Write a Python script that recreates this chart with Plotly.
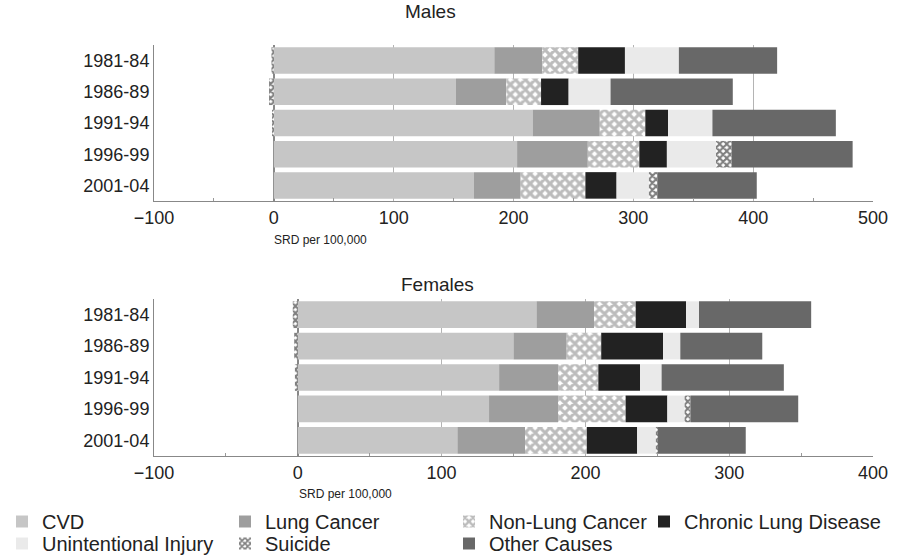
import plotly.graph_objects as go

periods = ["1981-84", "1986-89", "1991-94", "1996-99", "2001-04"]
causes = ["CVD", "Lung Cancer", "Non-Lung Cancer", "Chronic Lung Disease",
          "Unintentional Injury", "Suicide", "Other Causes"]

# Males (SRD per 100,000)
m_cvd = [184, 152, 216, 203, 167]
m_lung = [40, 42, 56, 59, 39]
m_nonlung = [30, 29, 38, 43, 54]
m_chronic = [39, 23, 19, 23, 26]
m_unint = [45, 35, 37, 41, 27]
m_suicide = [-2, -4, -1.5, 13, 7]
m_other = [82, 102, 103, 101, 83]

# Females (SRD per 100,000)
f_cvd = [166, 150, 140, 133, 111]
f_lung = [40, 37, 41, 48, 47]
f_nonlung = [29, 24, 28, 47, 43]
f_chronic = [35, 43, 29, 29, 35]
f_unint = [9, 12, 15, 12, 13]
f_suicide = [-3.5, -2.5, -2, 4, 1.5]
f_other = [78, 57, 85, 75, 61]

males = [m_cvd, m_lung, m_nonlung, m_chronic, m_unint, m_suicide, m_other]
females = [f_cvd, f_lung, f_nonlung, f_chronic, f_unint, f_suicide, f_other]

colors = ["#c6c6c6", "#9e9e9e", "#ffffff", "#222222", "#eaeaea", "#ffffff", "#686868"]
patterns = [None, None,
            dict(shape="x", fgcolor="#7a7a7a", bgcolor="#ffffff", size=7, solidity=0.68),
            None, None,
            dict(shape="x", fgcolor="#000000", bgcolor="#ffffff", size=5, solidity=0.65),
            None]

FONT = "Liberation Sans, Arial, sans-serif"
W, H = 912, 556


def px(x):
    return x / W


def py(y):
    return 1 - y / H


# one legend box per entry: (left px, top px) -> 4 columns x 2 rows
legend_pos = [(2, 502), (225, 502), (449, 502), (644, 502),
              (2, 524), (225, 524), (449, 524)]
legend_ids = ["legend"] + ["legend%d" % (k + 2) for k in range(6)]

fig = go.Figure()
for i, name in enumerate(causes):
    marker = dict(color=colors[i], line=dict(width=0))
    if patterns[i]:
        marker["pattern"] = patterns[i]
    fig.add_trace(go.Bar(y=periods, x=males[i], orientation="h", name=name,
                         marker=marker, legendgroup=name, legend=legend_ids[i],
                         xaxis="x", yaxis="y"))
for i, name in enumerate(causes):
    marker = dict(color=colors[i], line=dict(width=0))
    if patterns[i]:
        marker["pattern"] = patterns[i]
    fig.add_trace(go.Bar(y=periods, x=females[i], orientation="h", name=name,
                         marker=marker, legendgroup=name, showlegend=False,
                         xaxis="x2", yaxis="y2"))

xdom = [px(154), px(873)]
ydom_m = [py(201), py(45)]
ydom_f = [py(456), py(299)]

xcommon = dict(showgrid=True, gridcolor="#b4b4b4", gridwidth=1,
               zeroline=True, zerolinecolor="#888888", zerolinewidth=1.5,
               showline=True, linecolor="#888888", linewidth=1,
               dtick=100, ticks="", tickfont=dict(size=18, color="#222", family=FONT),
               minor=dict(ticks="inside", ticklen=3, dtick=50, tickcolor="#999", showgrid=False))
ycommon = dict(type="category", showgrid=False, showline=True, linecolor="#888888", linewidth=1,
               ticks="", tickfont=dict(size=18, color="#222", family=FONT),
               categoryorder="array", categoryarray=periods, autorange="reversed")

leg_common = dict(orientation="v", xanchor="left", yanchor="top", traceorder="normal",
                  font=dict(size=20, family=FONT, color="#222"), itemclick=False,
                  bgcolor="rgba(0,0,0,0)", tracegroupgap=0)

legends = {}
for lid, (lx, ly) in zip(legend_ids, legend_pos):
    legends[lid] = dict(x=px(lx), y=py(ly), **leg_common)

fig.update_layout(
    width=W, height=H,
    margin=dict(l=0, r=0, t=0, b=0, autoexpand=False),
    paper_bgcolor="white", plot_bgcolor="white",
    barmode="relative", bargap=0.15,
    font=dict(family=FONT, color="#222"),
    xaxis=dict(domain=xdom, anchor="y", range=[-100, 500], **xcommon),
    yaxis=dict(domain=ydom_m, anchor="x", **ycommon),
    xaxis2=dict(domain=xdom, anchor="y2", range=[-100, 400], **xcommon),
    yaxis2=dict(domain=ydom_f, anchor="x2", **ycommon),
    annotations=[
        dict(text="Males", x=px(430), y=py(12), xref="paper", yref="paper",
             xanchor="center", yanchor="middle",
             showarrow=False, font=dict(size=19, family=FONT, color="#222")),
        dict(text="Females", x=px(437), y=py(284), xref="paper", yref="paper",
             xanchor="center", yanchor="middle",
             showarrow=False, font=dict(size=19, family=FONT, color="#222")),
        dict(text="SRD per 100,000", x=px(320), y=py(240), xref="paper", yref="paper",
             xanchor="center", yanchor="middle",
             showarrow=False, font=dict(size=12, family=FONT, color="#222")),
        dict(text="SRD per 100,000", x=px(345), y=py(494), xref="paper", yref="paper",
             xanchor="center", yanchor="middle",
             showarrow=False, font=dict(size=12, family=FONT, color="#222")),
    ],
)
fig.update_layout(**legends)

fig.write_html("out.html", config={"displayModeBar": False},
               post_script="document.body.style.margin='0px';")
